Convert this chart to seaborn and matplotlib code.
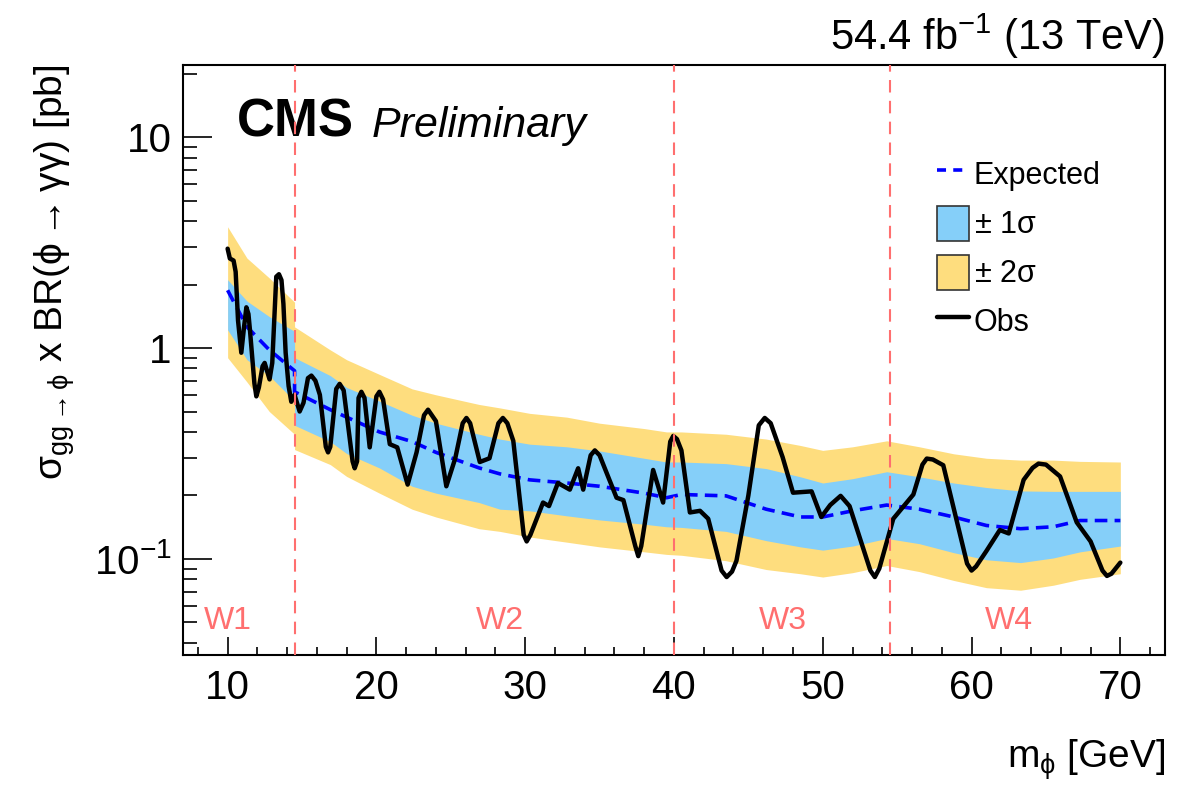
import numpy as np
import pandas as pd
import matplotlib
matplotlib.use("Agg")
import matplotlib.pyplot as plt
import matplotlib.ticker as mticker
from matplotlib.lines import Line2D
from matplotlib.patches import Patch
import seaborn as sns

# expected limit and bands
mass = [10.0, 11.3, 12.8, 14.5, 14.5, 16.9, 18.0, 20.2, 22.4, 24.0, 26.9, 28.3,
        30.3, 32.8, 35.0, 38.0, 39.5, 40.5, 43.5, 46.2, 48.5, 50.0, 52.0, 54.3,
        56.5, 58.8, 61.0, 63.3, 65.5, 67.3, 70.0]
expected = [1.88, 1.26, 0.98, 0.78, 0.62, 0.51, 0.47, 0.40, 0.36, 0.32, 0.27, 0.253,
            0.237, 0.229, 0.221, 0.205, 0.195, 0.202, 0.199, 0.172, 0.158, 0.158, 0.169, 0.180,
            0.172, 0.158, 0.144, 0.139, 0.142, 0.152, 0.152]
sig1_lo = [1.22, 0.88, 0.74, 0.56, 0.43, 0.36, 0.316, 0.27, 0.221, 0.205, 0.185, 0.172,
           0.169, 0.160, 0.153, 0.146, 0.142, 0.141, 0.135, 0.122, 0.114, 0.110, 0.115, 0.125,
           0.118, 0.107, 0.099, 0.096, 0.101, 0.108, 0.115]
sig1_hi = [2.11, 1.67, 1.41, 1.20, 0.90, 0.74, 0.65, 0.56, 0.48, 0.44, 0.39, 0.37,
           0.35, 0.34, 0.325, 0.30, 0.288, 0.288, 0.283, 0.268, 0.245, 0.229, 0.24, 0.259,
           0.245, 0.229, 0.218, 0.21, 0.209, 0.209, 0.209]
sig2_lo = [0.90, 0.69, 0.50, 0.39, 0.33, 0.28, 0.246, 0.205, 0.172, 0.158, 0.139, 0.135,
           0.127, 0.120, 0.114, 0.108, 0.105, 0.104, 0.098, 0.089, 0.085, 0.082, 0.086, 0.093,
           0.087, 0.079, 0.073, 0.071, 0.075, 0.080, 0.085]
sig2_hi = [3.76, 2.67, 2.15, 1.65, 1.26, 0.98, 0.88, 0.75, 0.64, 0.60, 0.54, 0.52,
           0.49, 0.47, 0.44, 0.415, 0.40, 0.40, 0.39, 0.37, 0.345, 0.327, 0.34, 0.363,
           0.34, 0.315, 0.30, 0.294, 0.294, 0.29, 0.288]

# observed limit
mass_obs = [10.0, 10.15, 10.4, 10.54, 10.7, 10.92, 11.1, 11.26, 11.4, 11.5, 11.8, 11.93,
            12.1, 12.35, 12.49, 12.65, 12.82, 13.0, 13.27, 13.45, 13.62, 13.75, 13.9, 14.1,
            14.28, 14.5, 14.84, 15.1, 15.4, 15.63, 15.9, 16.2, 16.6, 16.75, 16.9, 17.3,
            17.53, 17.8, 18.4, 18.54, 18.7, 18.8, 18.99, 19.2, 19.55, 20.0, 20.2, 20.45,
            20.9, 21.4, 22.1, 22.7, 23.2, 23.47, 24.0, 24.7, 25.3, 25.8, 26.05, 26.3,
            26.95, 27.6, 28.2, 28.5, 28.8, 29.2, 29.9, 30.1, 30.35, 31.2, 31.6, 32.2,
            33.0, 33.56, 33.9, 34.4, 34.68, 35.0, 36.14, 36.6, 37.4, 37.6, 37.8, 38.6,
            39.27, 39.75, 39.95, 40.2, 40.5, 41.07, 41.75, 42.3, 43.2, 43.54, 43.9, 44.2,
            45.0, 45.7, 46.1, 46.5, 47.3, 48.0, 49.25, 49.9, 50.5, 51.2, 51.8, 53.2,
            53.5, 53.8, 54.74, 56.09, 56.7, 56.99, 57.4, 58.1, 59.7, 60.0, 60.3, 61.0,
            61.9, 62.5, 63.5, 64.1, 64.5, 65.0, 65.95, 67.07, 68.0, 68.8, 69.1, 69.4,
            70.0]
observed = [2.96, 2.66, 2.6, 2.30, 1.35, 0.95, 1.25, 1.56, 1.45, 1.22, 0.68, 0.59,
            0.65, 0.82, 0.85, 0.78, 0.71, 0.85, 2.18, 2.24, 2.10, 1.62, 0.95, 0.66,
            0.556, 0.60, 0.50, 0.55, 0.72, 0.74, 0.70, 0.60, 0.34, 0.32, 0.34, 0.64,
            0.676, 0.63, 0.29, 0.269, 0.29, 0.58, 0.62, 0.58, 0.338, 0.59, 0.62, 0.57,
            0.35, 0.338, 0.225, 0.32, 0.48, 0.51, 0.45, 0.221, 0.30, 0.44, 0.466, 0.44,
            0.288, 0.30, 0.44, 0.466, 0.44, 0.363, 0.13, 0.121, 0.13, 0.185, 0.178, 0.229,
            0.213, 0.269, 0.213, 0.31, 0.327, 0.31, 0.195, 0.19, 0.115, 0.103, 0.115, 0.264,
            0.185, 0.36, 0.383, 0.37, 0.327, 0.166, 0.169, 0.155, 0.088, 0.082, 0.087, 0.098,
            0.2, 0.43, 0.466, 0.44, 0.304, 0.206, 0.209, 0.158, 0.18, 0.199, 0.178, 0.088,
            0.082, 0.09, 0.155, 0.202, 0.28, 0.299, 0.296, 0.278, 0.095, 0.088, 0.092, 0.109,
            0.137, 0.132, 0.237, 0.27, 0.283, 0.28, 0.246, 0.149, 0.121, 0.088, 0.083, 0.085,
            0.096]

# fit windows
window_edges = [14.5, 40.0, 54.5]
window_names = ["W1", "W2", "W3", "W4"]
window_label_x = [10.0, 28.3, 47.3, 62.5]

sns.set_theme(style="ticks")
plt.rcParams['font.family'] = ['Liberation Sans', 'DejaVu Sans']
plt.rcParams['mathtext.fontset'] = 'custom'
plt.rcParams['mathtext.rm'] = 'Liberation Sans'
plt.rcParams['mathtext.it'] = 'Liberation Sans:italic'
plt.rcParams['mathtext.bf'] = 'Liberation Sans:bold'
for key in ['text.color', 'axes.labelcolor', 'xtick.color', 'ytick.color', 'axes.edgecolor']:
    plt.rcParams[key] = 'black'

col_1s = '#85CFF9'
col_2s = '#FEDD7E'
red = '#FF6F6F'

fig = plt.figure(figsize=(11.79, 7.9), dpi=100)
ax = fig.add_axes([0.1552, 0.1709, 0.8329, 0.7468])

df = pd.DataFrame({'mass': mass, 'exp': expected, 's1lo': sig1_lo, 's1hi': sig1_hi,
                   's2lo': sig2_lo, 's2hi': sig2_hi})
obs = pd.DataFrame({'mass': mass_obs, 'obs': observed})

ax.fill_between(df['mass'], df['s2lo'], df['s2hi'], color=col_2s, lw=0, zorder=1)
ax.fill_between(df['mass'], df['s1lo'], df['s1hi'], color=col_1s, lw=0, zorder=2)
sns.lineplot(data=df, x='mass', y='exp', ax=ax, color='#0000FF', lw=2.6,
             estimator=None, sort=False, zorder=3)
ax.lines[-1].set_dashes([3.5, 2])
sns.lineplot(data=obs, x='mass', y='obs', ax=ax, color='black', lw=3.2,
             estimator=None, sort=False, zorder=4)
ax.lines[-1].set_solid_joinstyle('round')

for xe in window_edges:
    ax.axvline(xe, color=red, lw=1.5, dashes=(6, 4), zorder=5)
for name, xl in zip(window_names, window_label_x):
    ax.text(xl, 0.0506, name, color=red, fontsize=23, ha='center', va='center')

ax.set_yscale('log')
ax.set_xlim(7, 73)
ax.set_ylim(0.035, 22)

ax.xaxis.set_major_locator(mticker.MultipleLocator(10))
ax.xaxis.set_minor_locator(mticker.MultipleLocator(2))
ax.yaxis.set_major_locator(mticker.FixedLocator([0.1, 1, 10]))
ax.yaxis.set_major_formatter(mticker.FixedFormatter([r'$10^{-1}$', '1', '10']))
ax.yaxis.set_minor_locator(mticker.LogLocator(base=10, subs=np.arange(2, 10)))
ax.yaxis.set_minor_formatter(mticker.NullFormatter())

ax.tick_params(axis='both', which='both', direction='in', colors='black',
               labelsize=29, width=1.2)
ax.tick_params(axis='x', which='major', length=13, pad=10)
ax.tick_params(axis='x', which='minor', length=6)
ax.tick_params(axis='y', which='major', length=21, pad=8)
ax.tick_params(axis='y', which='minor', length=10)
for sp in ax.spines.values():
    sp.set_linewidth(1.5)
    sp.set_color('black')

ax.set_xlabel(r'm$_{\mathrm{\phi}}$ [GeV]', fontsize=28, loc='right', labelpad=22)
ax.set_ylabel(r'$\mathrm{\sigma}_{\mathrm{gg\rightarrow\phi}}$ x BR($\mathrm{\phi\rightarrow\gamma\gamma}$) [pb]',
              fontsize=28, loc='top', labelpad=12)

ax.text(0.055, 0.878, 'CMS', transform=ax.transAxes, fontsize=38,
        fontweight='bold', va='baseline')
ax.text(0.192, 0.878, 'Preliminary', transform=ax.transAxes, fontsize=31,
        style='italic', va='baseline')
fig.text(0.988, 0.937, r'54.4 fb$^{\mathrm{-1}}$ (13 TeV)', fontsize=30,
         ha='right', va='baseline')

handles = [Line2D([0], [0], color='#0000FF', lw=2.6, dashes=(2.5, 2)),
           Patch(facecolor=col_1s, edgecolor='#333333', lw=1.2),
           Patch(facecolor=col_2s, edgecolor='#333333', lw=1.2),
           Line2D([0], [0], color='black', lw=3.2)]
labels = ['Expected', r'$\pm$ 1$\mathrm{\sigma}$', r'$\pm$ 2$\mathrm{\sigma}$', 'Obs']
ax.legend(handles, labels, loc='upper left', bbox_to_anchor=(0.768, 0.845),
          frameon=False, fontsize=22, handlelength=1.05, handleheight=1.4,
          handletextpad=0.15, labelspacing=0.45, borderpad=0, borderaxespad=0)

fig.savefig('out.png', dpi=100)
